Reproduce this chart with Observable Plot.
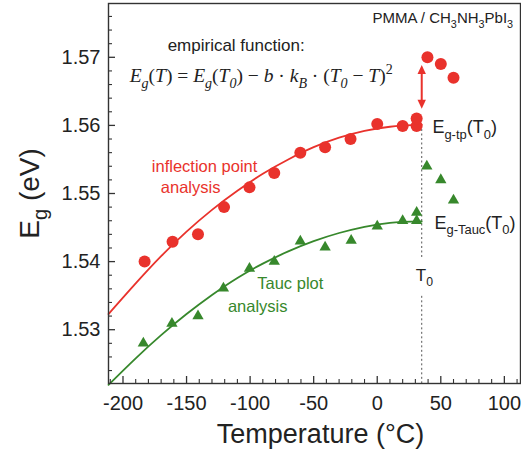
<!DOCTYPE html>
<html><head><meta charset="utf-8">
<script src="https://cdn.jsdelivr.net/npm/d3@7"></script>
<script src="https://cdn.jsdelivr.net/npm/@observablehq/plot@0.6"></script>
<style>body{margin:0;background:#fff} svg{display:block}</style>
</head><body><div id="chart"></div>
<script>
// ---- data ----
const tpT = [-183,-161,-141,-120.5,-100.5,-81,-60.5,-41,-21,0,20,31,31,39.5,50,60];
const tpE = [1.5400,1.5429,1.5440,1.5480,1.5509,1.5530,1.5560,1.5568,1.5580,1.5602,1.5599,1.5599,1.5610,1.5700,1.5690,1.5670];
const taucT = [-184,-161.5,-141,-121,-100.5,-81,-60.5,-41,-20.5,0,20,31,31,39,50,60];
const taucE = [1.5280,1.5309,1.5320,1.5361,1.5390,1.5400,1.5430,1.5421,1.5431,1.5452,1.5460,1.5460,1.5472,1.5540,1.5520,1.5490];
// fitted curves
const fitT   = [-211.4,-190,-170,-150,-130,-110,-90,-70,-50,-30,-10,10,35];
const fitTpE = [1.5323,1.5368,1.5408,1.5444,1.5476,1.5504,1.5529,1.5550,1.5568,1.5582,1.5592,1.5598,1.5601];
const fitTaE = [1.5219,1.5258,1.5292,1.5323,1.5351,1.5376,1.5397,1.5415,1.5430,1.5442,1.5451,1.5457,1.5459];
const T0 = 35;
const xTicks = [-200,-150,-100,-50,0,50,100];
const yTicks = [1.53,1.54,1.55,1.56,1.57];
const xMinorTicks = [-210,-190,-180,-170,-160,-140,-130,-120,-110,-90,-80,-70,-60,-40,-30,-20,-10,10,20,30,40,60,70,80,90,110];
const yMinorTicks = [1.524,1.526,1.528,1.532,1.534,1.536,1.538,1.542,1.544,1.546,1.548,1.552,1.554,1.556,1.558,1.562,1.564,1.566,1.568,1.572,1.574,1.576];
const xDomain = [-211.4, 112.7];
const yDomain = [1.5221, 1.5779];
// T0 marker segments and arrow (data units)
const t0Segments = [{y1:1.5594, y2:1.5405},{y1:1.5349, y2:1.5221}];
const arrowShaft = [{y1:1.5679, y2:1.5634}];
const arrowUp = [{y:1.5682}];
const arrowDown = [{y:1.5631}];

const RED = "#e9322c", GREEN = "#37882c", INK = "#222";
const W = 521, H = 454, mL = 108, mR = 1, mT = 3, mB = 71;
const plotW = W - mL - mR, plotH = H - mT - mB;

const tp = tpT.map((t,i)=>({T:t, E:tpE[i]}));
const tauc = taucT.map((t,i)=>({T:t, E:taucE[i]}));
const fitTp = fitT.map((t,i)=>({T:t, E:fitTpE[i]}));
const fitTa = fitT.map((t,i)=>({T:t, E:fitTaE[i]}));

const headUp = {draw(ctx){ctx.moveTo(0,-4.5);ctx.lineTo(4.2,4.5);ctx.lineTo(-4.2,4.5);ctx.closePath();}};
const headDown = {draw(ctx){ctx.moveTo(0,4.5);ctx.lineTo(4.2,-4.5);ctx.lineTo(-4.2,-4.5);ctx.closePath();}};

// rich texts: key is placeholder content, parts = [text, kind, italic]
const SANS = "Liberation Sans, Arial, sans-serif";
const SERIF = "Liberation Serif, Times New Roman, serif";
const labels = [
  {key:"L_pmma", T:-3.7, E:1.5757, anchor:"start", size:15, fill:INK, font:SANS,
   parts:[["PMMA / CH"],["3","sub"],["NH"],["3","sub"],["PbI"],["3","sub"]]},
  {key:"L_emp", T:-111, E:1.5717, anchor:"middle", size:17, fill:INK, font:SANS,
   parts:[["empirical function:"]]},
  {key:"L_formula", T:-91.3, E:1.5673, anchor:"middle", size:19.5, fill:INK, font:SERIF,
   parts:[["E",0,1],["g","sub",1],["("],["T",0,1],[") = "],["E",0,1],["g","sub",1],["("],["T",0,1],["0","sub",1],[") − "],["b",0,1],[" · "],["k",0,1],["B","sub",1],[" · ("],["T",0,1],["0","sub",1],[" − "],["T",0,1],[")"],["2","sup"]]},
  {key:"L_inf1", T:-135.8, E:1.5540, anchor:"middle", size:16.5, fill:RED, font:SANS, parts:[["inflection point"]]},
  {key:"L_inf2", T:-146.8, E:1.5509, anchor:"middle", size:16.5, fill:RED, font:SANS, parts:[["analysis"]]},
  {key:"L_tau1", T:-68.4, E:1.5368, anchor:"middle", size:16.5, fill:GREEN, font:SANS, parts:[["Tauc plot"]]},
  {key:"L_tau2", T:-94.0, E:1.5334, anchor:"middle", size:16.5, fill:GREEN, font:SANS, parts:[["analysis"]]},
  {key:"L_egtp", T:43.4, E:1.5597, anchor:"start", size:18, fill:INK, font:SANS,
   parts:[["E"],["g-tp","sub"],["(T"],["0","sub"],[")"]]},
  {key:"L_egta", T:45.0, E:1.5457, anchor:"start", size:18, fill:INK, font:SANS,
   parts:[["E"],["g-Tauc","sub"],["(T"],["0","sub"],[")"]]},
  {key:"L_t0", T:37.1, E:1.5380, anchor:"middle", size:17, fill:INK, font:SANS,
   parts:[["T"],["0","sub"]]}
];

const textMarks = labels.map(l => Plot.text([l], {x:"T", y:"E", text:"key", textAnchor:l.anchor,
  lineAnchor:"middle", fontSize:l.size, fill:l.fill, fontFamily:l.font}));

const chart = Plot.plot({
  width: W, height: H,
  marginLeft: mL, marginRight: mR, marginTop: mT, marginBottom: mB,
  x: {domain: xDomain},
  y: {domain: yDomain},
  style: {fontFamily: SANS, background: "#fff"},
  marks: [
    Plot.ruleX(t0Segments, {x: () => T0, y1:"y1", y2:"y2", stroke:"#555", strokeWidth:1, strokeDasharray:"2,2.5"}),
    Plot.line(fitTp, {x:"T", y:"E", curve:"natural", stroke:RED, strokeWidth:1.8}),
    Plot.line(fitTa, {x:"T", y:"E", curve:"natural", stroke:GREEN, strokeWidth:1.8}),
    Plot.dot(tp, {x:"T", y:"E", r:6, fill:RED}),
    Plot.dot(tauc, {x:"T", y:"E", r:4.2, symbol:"triangle", fill:GREEN}),
    Plot.ruleX(arrowShaft, {x: () => T0, y1:"y1", y2:"y2", stroke:RED, strokeWidth:2}),
    Plot.dot(arrowUp, {x: () => T0, y:"y", symbol: headUp, fill:RED, r:3}),
    Plot.dot(arrowDown, {x: () => T0, y:"y", symbol: headDown, fill:RED, r:3}),
    Plot.tickX(xTicks, {x: d=>d, insetTop: plotH-7, stroke:"#333", strokeWidth:1.3}),
    Plot.tickX(xMinorTicks, {x: d=>d, insetTop: plotH-4, stroke:"#333", strokeWidth:1.1}),
    Plot.tickY(yTicks, {y: d=>d, insetRight: plotW-7, stroke:"#333", strokeWidth:1.3}),
    Plot.tickY(yMinorTicks, {y: d=>d, insetRight: plotW-4, stroke:"#333", strokeWidth:1.1}),
    Plot.axisX(xTicks, {tickSize:0, tickPadding:12, fontSize:20, fill:INK, label:null, tickFormat: d => String(d)}),
    Plot.axisY(yTicks, {tickSize:0, tickPadding:8, fontSize:20, fill:INK, label:null, tickFormat: d => d.toFixed(2)}),
    Plot.frame({stroke:"#333", strokeWidth:1.4}),
    Plot.text(["Temperature (°C)"], {frameAnchor:"bottom", dx:6, dy:59, lineAnchor:"bottom", fontSize:27, fill:INK}),
    Plot.text(["L_ylab"], {frameAnchor:"left", dx:-70, rotate:-90, lineAnchor:"bottom", textAnchor:"middle", fontSize:28, fill:INK}),
    ...textMarks
  ]
});

function richify(root, key, parts, base) {
  d3.select(root).selectAll("text").filter(function(){ return this.textContent === key; }).each(function(){
    const t = d3.select(this);
    t.text("");
    let cur = 0; // current baseline offset in px
    for (const [str, kind, ital] of parts) {
      const s = t.append("tspan").text(str);
      let target = 0, size = base;
      if (kind === "sub") { target = base*0.32; size = base*0.72; }
      if (kind === "sup") { target = -base*0.40; size = base*0.72; }
      if (target !== cur) { s.attr("dy", target - cur); cur = target; }
      if (size !== base) s.attr("font-size", size);
      if (ital) s.attr("font-style", "italic");
    }
  });
}
for (const l of labels) richify(chart, l.key, l.parts, l.size);
richify(chart, "L_ylab", [["E"],["g","sub"],[" (eV)"]], 28);

document.getElementById("chart").append(chart);
</script>
</body></html>
